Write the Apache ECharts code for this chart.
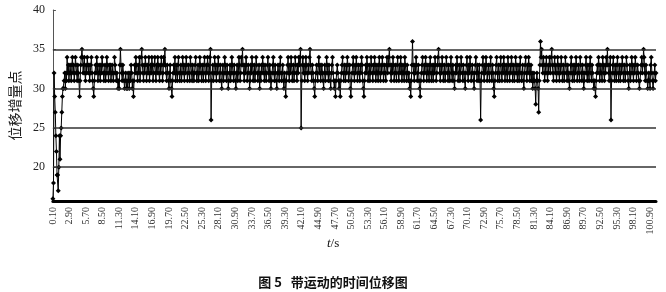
<!DOCTYPE html>
<html><head><meta charset="utf-8">
<script src="https://cdn.jsdelivr.net/npm/echarts@6/dist/echarts.min.js"></script>
<style>html,body{margin:0;padding:0;background:#fff}#c{width:666px;height:292px}</style>
</head><body><div id="c"></div>
<script>
// time categories 0.10 ... 101.90 (step 0.10)
const timeStart = 0.1, timeStep = 0.1, timeCount = 1019;
const times = [];
for (let i = 0; i < timeCount; i++) times.push((timeStart + i * timeStep).toFixed(2));

// displacement increment (pixels)
const displacement = [
16,18,32,29,27,24,22,19,19,17,20,24,21,24,25,27,29,30,30,31,
32,30,32,31,34,32,33,31,32,33,32,31,33,34,32,33,31,32,34,33,
32,31,33,32,31,29,31,33,34,35,34,32,33,34,32,31,33,32,34,33,
32,33,31,32,33,34,32,31,30,29,31,32,33,32,34,33,31,32,33,32,
31,33,32,34,33,32,31,32,33,31,32,34,33,32,31,33,32,33,31,32,
33,32,31,32,34,33,32,31,32,31,30,31,30,33,35,33,32,31,33,32,
31,30,31,32,30,31,30,32,31,30,32,31,33,32,30,31,29,31,33,32,
34,33,32,31,33,32,34,31,32,34,35,33,32,31,33,32,34,33,31,32,
33,32,34,31,32,33,32,34,33,31,32,33,34,32,31,33,32,34,33,32,
31,33,32,34,33,31,32,34,33,35,33,32,31,33,32,31,30,32,33,31,
30,29,31,32,33,32,34,31,33,32,31,33,34,32,31,32,33,31,32,34,
33,32,31,33,32,34,33,31,32,33,32,31,34,33,32,31,33,32,31,32,
33,34,32,31,32,33,31,32,34,33,32,31,33,32,31,33,34,32,31,33,
32,34,33,31,32,34,35,26,31,32,33,31,32,34,33,32,31,33,32,34,
33,31,32,33,31,30,32,33,31,32,34,33,32,31,33,32,30,31,32,33,
31,32,34,33,32,31,33,32,31,30,32,33,31,32,34,33,31,32,34,33,
35,33,32,31,33,32,34,33,31,32,33,32,30,31,33,32,34,33,31,32,
33,31,32,34,33,32,31,32,33,30,32,31,33,32,34,33,32,31,33,32,
31,32,33,34,32,31,33,32,30,31,32,33,34,32,31,33,32,31,30,32,
33,32,31,33,34,32,31,32,33,31,30,32,31,29,31,32,33,34,32,31,
33,32,34,33,31,32,33,31,32,34,33,32,31,33,32,34,33,34,35,25,
31,33,34,32,33,31,32,34,33,32,31,33,32,34,35,33,32,31,33,32,
31,30,29,31,32,33,32,31,33,34,32,33,31,32,33,32,31,30,32,33,
31,32,34,33,32,31,33,32,31,30,32,33,34,32,31,30,31,29,31,32,
33,32,31,30,31,29,31,32,33,34,32,31,33,32,31,33,32,34,33,31,
32,33,30,29,31,32,33,34,32,31,33,32,34,33,31,32,33,32,31,33,
32,34,33,31,30,29,31,32,33,32,34,33,31,32,33,31,32,34,33,32,
31,33,32,34,33,31,32,33,32,31,33,34,32,31,33,32,34,33,31,32,
33,32,31,33,34,32,33,34,35,33,32,31,33,32,34,33,31,32,33,32,
31,33,34,32,31,33,32,34,33,31,32,33,32,31,34,33,32,31,33,32,
31,32,30,31,29,31,33,36,33,32,31,33,32,34,33,31,32,33,31,30,
29,31,32,33,34,32,31,33,32,34,33,31,32,33,32,31,33,34,32,31,
33,32,31,33,32,34,33,31,32,33,34,35,33,32,31,33,32,34,33,31,
32,33,31,32,34,33,32,31,33,32,31,33,34,32,31,33,32,31,30,32,
33,32,34,33,31,32,33,31,32,34,33,32,31,33,32,31,30,32,33,34,
32,31,33,32,34,33,31,32,33,32,31,30,32,33,34,32,31,33,32,31,
33,31,26,31,32,33,34,32,31,33,32,34,33,31,32,33,32,31,33,34,
32,31,33,32,30,29,31,32,33,34,32,31,33,32,31,33,34,32,31,33,
32,34,33,31,32,33,32,31,34,33,32,31,33,32,34,33,31,32,33,31,
32,34,33,32,31,33,32,31,33,34,32,31,32,33,31,30,32,33,34,32,
31,33,32,34,33,31,32,33,31,32,30,31,32,31,30,28,31,32,31,30,
27,31,33,36,34,35,33,32,34,33,31,32,33,34,32,31,33,32,34,33,
32,34,35,33,32,31,33,34,32,33,31,32,34,33,32,31,33,32,34,33,
31,32,33,31,32,34,33,32,31,33,32,31,30,32,33,34,32,31,33,32,
31,33,32,34,33,31,32,33,32,31,34,33,32,31,33,32,30,31,32,33,
34,32,31,33,32,31,33,34,32,31,33,32,31,30,31,30,29,31,32,33,
32,34,33,31,32,33,32,31,34,33,32,31,33,32,34,33,35,33,32,31,
33,34,26,31,32,33,34,32,31,33,32,31,33,34,32,31,33,32,31,33,
32,34,33,31,32,33,31,32,34,33,32,31,30,32,33,31,32,34,33,32,
31,33,32,34,33,31,32,33,32,31,30,31,32,33,34,32,33,35,34,32,
31,33,32,31,30,31,32,31,30,33,34,32,31,30,31,32,33,31,32
];

const yTicks = [20, 25, 30, 35, 40];
const gridValues = [20, 25, 30, 35];
const yAxisName = '位移增量点';
const caption = '图 5   带运动的时间位移图';

const chart = echarts.init(document.getElementById('c'), null, {renderer: 'canvas'});
chart.setOption({
  animation: false,
  backgroundColor: '#fff',
  grid: {left: 39, right: 10, top: 10, bottom: 91},
  title: {
    text: caption, left: 'center', top: 271,
    textStyle: {fontFamily: 'Noto Sans CJK SC', fontSize: 13, fontWeight: 'bold', color: '#111'}
  },
  graphic: [{
    type: 'text', left: 327, top: 237,
    style: {
      text: '{i|t}{n|/s}',
      rich: {
        i: {fontFamily: 'Liberation Serif', fontStyle: 'italic', fontSize: 13, fill: '#111'},
        n: {fontFamily: 'Liberation Serif', fontSize: 13, fill: '#111'}
      }
    }
  }],
  xAxis: {
    type: 'category', data: times, boundaryGap: false,
    axisLine: {show: true, lineStyle: {color: '#000', width: 3}},
    axisTick: {show: false},
    axisLabel: {
      interval: 27, rotate: 90, margin: 6,
      fontFamily: 'Liberation Serif', fontSize: 10, color: '#333'
    },
    splitLine: {show: false}
  },
  yAxis: {
    type: 'value', min: 15.7, max: 40,
    name: yAxisName, nameLocation: 'middle', nameRotate: 90, nameGap: 24,
    nameTextStyle: {fontFamily: 'Noto Sans CJK SC', fontSize: 14, color: '#222'},
    axisLine: {show: true, lineStyle: {color: '#555', width: 1}},
    axisTick: {show: true, customValues: yTicks, length: 3, inside: true, lineStyle: {color: '#555'}},
    axisLabel: {customValues: yTicks, margin: 8, fontFamily: 'Liberation Serif', fontSize: 12, color: '#222'},
    splitLine: {show: false}
  },
  series: [{
    type: 'line', data: displacement,
    symbol: 'diamond', symbolSize: 5, showAllSymbol: true,
    lineStyle: {color: '#000', width: 1},
    itemStyle: {color: '#000'},
    markLine: {
      silent: true, symbol: 'none', label: {show: false},
      lineStyle: {color: '#333', width: 1.5, type: 'solid'},
      data: gridValues.map(v => ({yAxis: v}))
    },
    z: 3
  }]
});
</script></body></html>
